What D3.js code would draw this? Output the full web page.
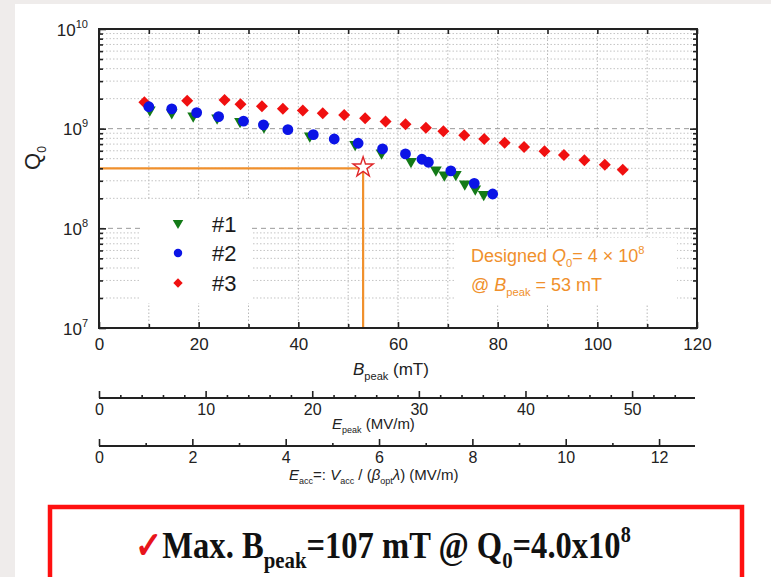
<!DOCTYPE html>
<html>
<head>
<meta charset="utf-8">
<script src="https://cdn.jsdelivr.net/npm/d3@7"></script>
<style>
  body { margin: 0; background: #efeceb; }
  svg { display: block; }
</style>
</head>
<body>
<div id="chart"></div>
<script>
/** * ------------------ Data ------------------ ***/

// cavity #1 (green triangles)
const bPeak1 = [10.2, 14.6, 18.9, 23.7, 28.3, 33.1, 42.3, 51.4, 56.7, 62.6, 67.6, 69.3, 71.6, 73.4, 75.5, 77.2]
const q0Cav1 = [1.54e9, 1.45e9, 1.34e9, 1.28e9, 1.18e9, 1.04e9, 8.45e8, 6.94e8, 5.71e8, 4.69e8, 3.85e8, 3.43e8, 3.47e8, 2.79e8, 2.48e8, 2.19e8]

// cavity #2 (blue circles)
const bPeak2 = [10.0, 14.6, 19.6, 24.0, 29.0, 33.0, 37.9, 43.0, 47.2, 52.0, 56.9, 61.5, 64.8, 66.1, 70.6, 75.3, 79.0]
const q0Cav2 = [1.66e9, 1.58e9, 1.45e9, 1.32e9, 1.19e9, 1.09e9, 9.77e8, 8.71e8, 7.88e8, 7.14e8, 6.26e8, 5.58e8, 4.93e8, 4.60e8, 3.77e8, 2.83e8, 2.21e8]

// cavity #3 (red diamonds)
const bPeak3 = [9.1, 17.7, 25.2, 28.4, 32.7, 36.9, 40.9, 44.9, 49.2, 53.4, 57.5, 61.5, 65.6, 69.1, 73.3, 77.3, 81.4, 85.3, 89.4, 93.3, 97.4, 101.5, 105.1]
const q0Cav3 = [1.84e9, 1.91e9, 1.94e9, 1.76e9, 1.68e9, 1.58e9, 1.52e9, 1.43e9, 1.37e9, 1.27e9, 1.18e9, 1.11e9, 1.02e9, 9.42e8, 8.59e8, 7.88e8, 7.24e8, 6.55e8, 5.93e8, 5.45e8, 4.82e8, 4.35e8, 3.88e8]

const seriesNames = ['#1', '#2', '#3']

// design point
const designBPeak = 53
const designQ0 = 4e8

// axes
const bPeakDomain = [0, 120]
const bPeakTicks = [0, 20, 40, 60, 80, 100, 120]
const bPeakMinor = [10, 30, 50, 70, 90, 110]
const bPeakGrid = [10, 20, 30, 40, 50, 60, 70, 80, 90, 100, 110]
const q0Domain = [1e7, 1e10]
const q0Decades = [7, 8, 9, 10]
const ePeakDomain = [0, 55.9]
const ePeakTicks = [0, 10, 20, 30, 40, 50]
const ePeakMinor = [2, 4, 6, 8, 12, 14, 16, 18, 22, 24, 26, 28, 32, 34, 36, 38, 42, 44, 46, 48, 52, 54]
const eAccDomain = [0, 12.77]
const eAccTicks = [0, 2, 4, 6, 8, 10, 12]
const eAccMinor = [1, 3, 5, 7, 9, 11]

/** * ------------------ Set Up ------------------ ***/

const W = 771
const H = 577
const plot = { left: 99, top: 29, right: 697, bottom: 328 }
const sans = "'Liberation Sans', Arial, sans-serif"
const orange = '#f0902c'

const svg = d3.select('#chart').append('svg')
  .attr('width', W)
  .attr('height', H)

// page
svg.append('rect').attr('width', W).attr('height', H).attr('fill', '#efeceb')
svg.append('rect').attr('x', 15).attr('y', 4).attr('width', W - 15).attr('height', H - 4).attr('fill', '#fff')

const x = d3.scaleLinear().domain(bPeakDomain).range([plot.left, plot.right])
const y = d3.scaleLog().domain(q0Domain).range([plot.bottom, plot.top])

const q0Minor = []
q0Decades.slice(0, -1).forEach(e => {
  for (let k = 2; k <= 9; k++) q0Minor.push(k * Math.pow(10, e))
})

/** * ------------------ Grid ------------------ ***/

const grid = svg.append('g')
grid.selectAll('.vgrid').data(bPeakGrid).enter().append('line')
  .attr('x1', d => x(d)).attr('x2', d => x(d))
  .attr('y1', plot.top).attr('y2', plot.bottom)
  .attr('stroke', '#b8b8b8').attr('stroke-width', 1).attr('stroke-dasharray', '1.5,2')
grid.selectAll('.hgrid').data(q0Minor).enter().append('line')
  .attr('x1', plot.left).attr('x2', plot.right)
  .attr('y1', d => y(d)).attr('y2', d => y(d))
  .attr('stroke', '#c4c4c4').attr('stroke-width', 1).attr('stroke-dasharray', '1.5,2')
grid.selectAll('.dgrid').data([1e8, 1e9]).enter().append('line')
  .attr('x1', plot.left).attr('x2', plot.right)
  .attr('y1', d => y(d)).attr('y2', d => y(d))
  .attr('stroke', '#9a9a9a').attr('stroke-width', 1).attr('stroke-dasharray', '5,4')

// white boxes behind legend and annotation
svg.append('rect').attr('x', 140).attr('y', 200).attr('width', 112).attr('height', 103).attr('fill', '#fff')
svg.append('rect').attr('x', 455).attr('y', 238).attr('width', 222).attr('height', 67).attr('fill', '#fff')

/** * ------------------ Design lines ------------------ ***/

svg.append('path')
  .attr('d', `M${x(0)},${y(designQ0)}H${x(designBPeak)}V${plot.bottom}`)
  .attr('fill', 'none').attr('stroke', orange).attr('stroke-width', 2.2)

/** * ------------------ Markers ------------------ ***/

const sym = {
  tri: d3.symbol().type(d3.symbolTriangle).size(60),
  circ: d3.symbol().type(d3.symbolCircle).size(92),
  dia: d3.symbol().type(d3.symbolSquare).size(72)
}

const series = [
  { xs: bPeak3, ys: q0Cav3, path: sym.dia(), rot: 45, color: '#f01010' },
  { xs: bPeak1, ys: q0Cav1, path: sym.tri(), rot: 180, color: '#137a17' },
  { xs: bPeak2, ys: q0Cav2, path: sym.circ(), rot: 0, color: '#0b14e6' }
]

series.forEach(s => {
  svg.append('g').selectAll('path')
    .data(d3.zip(s.xs, s.ys))
    .enter().append('path')
    .attr('d', s.path)
    .attr('transform', d => `translate(${x(d[0])},${y(d[1])}) rotate(${s.rot})`)
    .attr('fill', s.color)
})

// design star
svg.append('path')
  .attr('d', d3.symbol().type(d3.symbolStar).size(125)())
  .attr('transform', `translate(${x(designBPeak)},${y(designQ0) - 1})`)
  .attr('fill', '#fff').attr('stroke', '#e0282a').attr('stroke-width', 1.4)

/** * ------------------ Axes ------------------ ***/

function styleAxis (g) {
  g.select('.domain').remove()
  g.selectAll('line').attr('stroke', '#222').attr('stroke-width', 1.6)
  g.attr('font-family', sans).attr('font-size', 17)
  g.selectAll('text').attr('fill', '#222')
}

svg.append('g')
  .attr('transform', `translate(0,${plot.bottom})`)
  .call(d3.axisBottom(x).tickValues(bPeakTicks).tickSizeInner(-6).tickSizeOuter(0).tickPadding(10))
  .call(styleAxis)
svg.append('g')
  .attr('transform', `translate(0,${plot.bottom})`)
  .call(d3.axisBottom(x).tickValues(bPeakMinor).tickSizeInner(-4).tickSizeOuter(0).tickFormat(''))
  .call(styleAxis)
svg.append('g')
  .attr('transform', `translate(0,${plot.top})`)
  .call(d3.axisTop(x).tickValues(bPeakTicks.concat(bPeakMinor)).tickSizeInner(-5).tickSizeOuter(0).tickFormat(''))
  .call(styleAxis)

const yLeft = svg.append('g')
  .attr('transform', `translate(${plot.left},0)`)
  .call(d3.axisLeft(y).tickValues(q0Decades.map(e => Math.pow(10, e))).tickSizeInner(-7).tickSizeOuter(0).tickPadding(11).tickFormat(''))
  .call(styleAxis)
svg.append('g')
  .attr('transform', `translate(${plot.left},0)`)
  .call(d3.axisLeft(y).tickValues(q0Minor).tickSizeInner(-4).tickSizeOuter(0).tickFormat(''))
  .call(styleAxis)
svg.append('g')
  .attr('transform', `translate(${plot.right},0)`)
  .call(d3.axisRight(y).tickValues(q0Decades.map(e => Math.pow(10, e))).tickSizeInner(-7).tickSizeOuter(0).tickFormat(''))
  .call(styleAxis)
svg.append('g')
  .attr('transform', `translate(${plot.right},0)`)
  .call(d3.axisRight(y).tickValues(q0Minor).tickSizeInner(-4).tickSizeOuter(0).tickFormat(''))
  .call(styleAxis)

// decade labels with superscripts
yLeft.selectAll('.tick text')
  .attr('dy', '0.36em')
  .each(function (d) {
    const t = d3.select(this)
    t.append('tspan').text('10')
    t.append('tspan').attr('font-size', 11).attr('dy', -8).text(Math.round(Math.log10(d)))
  })

// frame
svg.append('rect')
  .attr('x', plot.left).attr('y', plot.top)
  .attr('width', plot.right - plot.left).attr('height', plot.bottom - plot.top)
  .attr('fill', 'none').attr('stroke', '#222').attr('stroke-width', 2)

/** * ------------------ Rich text helper ------------------ ***/

// parts: [text, kind] where kind is '', 'i', 'sub', 'sup'
function rich (g, px, py, parts, size, opts = {}) {
  const t = g.append('text')
    .attr('x', px).attr('y', py)
    .attr('font-family', opts.family || sans)
    .attr('font-size', size)
    .attr('fill', opts.fill || '#222')
    .attr('text-anchor', opts.anchor || 'start')
  if (opts.weight) t.attr('font-weight', opts.weight)
  if (opts.transform) t.attr('transform', opts.transform)
  let shift = 0
  parts.forEach(([txt, kind]) => {
    const sp = t.append('tspan').text(txt)
    let target = 0
    if (kind === 'sub') { sp.attr('font-size', size * (opts.subScale || 0.62)); target = size * 0.28 }
    if (kind === 'sup') { sp.attr('font-size', size * 0.62); target = -size * 0.42 }
    if (kind === 'i') sp.attr('font-style', 'italic')
    if (target !== shift) { sp.attr('dy', target - shift); shift = target }
    if (opts.colors && opts.colors[txt]) sp.attr('fill', opts.colors[txt])
  })
  return t
}

// axis titles
rich(svg, 40, 158, [['Q', ''], ['0', 'sub']], 22, { anchor: 'middle', transform: 'rotate(-90,40,158)', subScale: 0.55 })
rich(svg, 353, 375, [['B', 'i'], ['peak', 'sub'], [' (mT)', '']], 17, { subScale: 0.65 })

/** * ------------------ Legend ------------------ ***/

const legendSyms = [
  { path: d3.symbol().type(d3.symbolTriangle).size(48)(), rot: 180, color: '#137a17' },
  { path: d3.symbol().type(d3.symbolCircle).size(56)(), rot: 0, color: '#0b14e6' },
  { path: d3.symbol().type(d3.symbolSquare).size(44)(), rot: 45, color: '#f01010' }
]
const legendY = [224, 253, 283]
seriesNames.forEach((name, i) => {
  svg.append('path')
    .attr('d', legendSyms[i].path)
    .attr('transform', `translate(178,${legendY[i] - (i === 0 ? 1 : 0)}) rotate(${legendSyms[i].rot})`)
    .attr('fill', legendSyms[i].color)
  svg.append('text')
    .attr('x', 212).attr('y', legendY[i] + 8)
    .attr('font-family', sans).attr('font-size', 22)
    .attr('fill', '#1a1a1a')
    .text(name)
})

/** * ------------------ Annotation ------------------ ***/

rich(svg, 471, 262, [['Designed ', ''], ['Q', 'i'], ['0', 'sub'], ['= 4 × 10', ''], ['8', 'sup']], 18, { fill: orange })
rich(svg, 471, 291, [['@ ', ''], ['B', 'i'], ['peak', 'sub'], [' = 53 mT', '']], 18, { fill: orange })

/** * ------------------ Secondary axes ------------------ ***/

const xe = d3.scaleLinear().domain(ePeakDomain).range([plot.left, 695])
const xa = d3.scaleLinear().domain(eAccDomain).range([plot.left, 695])

function secondAxis (scale, majors, minors, yPos) {
  const g = svg.append('g').attr('transform', `translate(0,${yPos})`)
  g.append('line')
    .attr('x1', scale.range()[0]).attr('x2', scale.range()[1])
    .attr('stroke', '#222').attr('stroke-width', 2)
  g.append('g')
    .call(d3.axisBottom(scale).tickValues(majors).tickSizeInner(-7).tickSizeOuter(0).tickPadding(6))
    .call(styleAxis)
    .attr('font-size', 16)
  g.append('g')
    .call(d3.axisBottom(scale).tickValues(minors).tickSizeInner(-3).tickSizeOuter(0).tickFormat(''))
    .call(styleAxis)
}

secondAxis(xe, ePeakTicks, ePeakMinor, 398)
secondAxis(xa, eAccTicks, eAccMinor, 446)

rich(svg, 332, 429, [['E', 'i'], ['peak', 'sub'], [' (MV/m)', '']], 15, { subScale: 0.6 })
rich(svg, 289, 480, [['E', 'i'], ['acc', 'sub'], ['=: ', ''], ['V', 'i'], ['acc', 'sub'], [' / (', ''], ['β', 'i'], ['opt', 'sub'], ['λ', 'i'], [') (MV/m)', '']], 15, { subScale: 0.6 })

/** * ------------------ Summary box ------------------ ***/

svg.append('rect')
  .attr('x', 50).attr('y', 507).attr('width', 692).attr('height', 90)
  .attr('fill', '#fff').attr('stroke', '#ff1010').attr('stroke-width', 4.5)

const summary = rich(svg, 0, 0, [['✓', ''], ['Max. B', ''], ['peak', 'sub'], ['=107 mT @ Q', ''], ['0', 'sub'], ['=4.0x10', ''], ['8', 'sup']], 37,
  { family: "'Liberation Serif', 'Times New Roman', serif", weight: 'bold', fill: '#111', anchor: 'middle', subScale: 0.64, colors: { '✓': '#e8141b' } })
summary.attr('transform', 'translate(383,558) scale(0.88,1)')
</script>
</body>
</html>
